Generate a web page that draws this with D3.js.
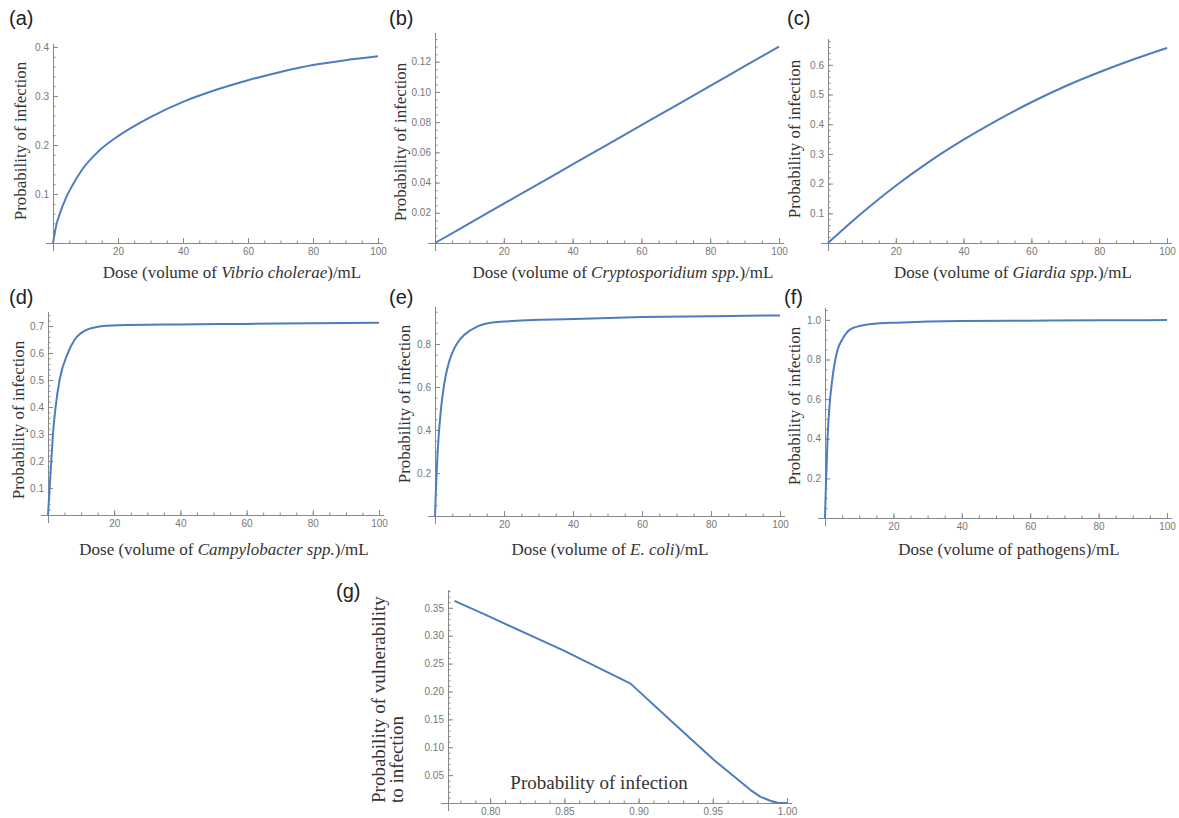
<!DOCTYPE html>
<html lang="en">
<head>
  <meta charset="UTF-8">
  <title>Dose-response curves</title>
  <style>
    body { margin: 0; background: #fff; }
    .tick text { font-family: "Liberation Sans", Arial, sans-serif; font-size: 10px; fill: #777; }
    .tick line { stroke: #888; }
    .axis-title { font-family: "Liberation Serif", "DejaVu Serif", serif; font-size: 17px; fill: #333; }
    .panel-label { font-family: "Liberation Sans", Arial, sans-serif; font-size: 20px; fill: #222; }
  </style>
</head>
<body>
  <svg width="1179" height="818"></svg>
  <script src="https://d3js.org/d3.v7.min.js"></script>
  <script>
// Values
const doseA = [0, 1, 2, 4, 6, 9, 14, 20, 30, 40, 50, 60, 70, 80, 90, 100];
const probA = [0, 0.036, 0.058, 0.092, 0.118, 0.15, 0.187, 0.218, 0.257, 0.288, 0.312, 0.332, 0.349, 0.363, 0.373, 0.381];

const doseB = [0, 10, 20, 30, 40, 50, 60, 70, 80, 90, 100];
const probB = [0, 0.013, 0.026, 0.039, 0.052, 0.065, 0.078, 0.091, 0.104, 0.117, 0.130];

const doseC = [0, 10, 20, 30, 40, 50, 60, 70, 80, 90, 100];
const probC = [0, 0.101, 0.193, 0.275, 0.348, 0.414, 0.474, 0.528, 0.575, 0.618, 0.657];

const doseD = [0, 0.5, 1, 1.5, 2.3, 3.5, 6, 8.1, 11.5, 15.5, 21, 40, 60, 80, 100];
const probD = [0, 0.1, 0.2, 0.3, 0.4, 0.5, 0.6, 0.65, 0.685, 0.698, 0.703, 0.706, 0.708, 0.710, 0.712];

const doseE = [0, 0.3, 0.8, 1.7, 2.7, 4.1, 5.6, 7.5, 10.4, 14.3, 20.7, 40, 60, 80, 100];
const probE = [0, 0.136, 0.307, 0.493, 0.617, 0.718, 0.78, 0.826, 0.865, 0.893, 0.905, 0.916, 0.925, 0.929, 0.933];

const doseF = [0, 0.3, 0.8, 1.2, 2.2, 3.6, 5.1, 7.5, 10.4, 15.3, 20.9, 40, 60, 80, 100];
const probF = [0, 0.188, 0.424, 0.541, 0.709, 0.844, 0.903, 0.953, 0.97, 0.982, 0.986, 0.994, 0.996, 0.998, 0.999];

const infG = [0.776, 0.80, 0.85, 0.8946, 0.924, 0.951, 0.9757, 0.9822, 0.9892, 0.9937, 1.0];
const vulnG = [0.3624, 0.3337, 0.2727, 0.2141, 0.142, 0.0766, 0.0227, 0.011, 0.0036, 0.0005, 0];

const lineColor = "#4f7cc0";
const svg = d3.select("svg");

const panels = [
  { tag: "(a)", tagX: 9, tagY: 25, xs: doseA, ys: probA,
    xDom: [0, 100], xRange: [53, 378], yDom: [0, 0.406], yRange: [243, 44],
    xMajor: 20, xMinor: 5, yMajor: 0.1, yMinor: 0.02, xFmt: "d", yFmt: ".1f",
    xTitle: ["Dose (volume of ", "Vibrio cholerae", ")/mL"], xtX: 232, xtY: 278,
    yTitle: ["Probability of infection"], ytX: 26, ytY: 141 },
  { tag: "(b)", tagX: 389, tagY: 25, xs: doseB, ys: probB,
    xDom: [0, 100], xRange: [435, 779], yDom: [0, 0.139], yRange: [243, 33],
    xMajor: 20, xMinor: 5, yMajor: 0.02, yMinor: 0.005, xFmt: "d", yFmt: ".2f",
    xTitle: ["Dose (volume of ", "Cryptosporidium spp.", ")/mL"], xtX: 623, xtY: 278,
    yTitle: ["Probability of infection"], ytX: 406, ytY: 142 },
  { tag: "(c)", tagX: 787, tagY: 25, xs: doseC, ys: probC,
    xDom: [0, 100], xRange: [828, 1167], yDom: [0, 0.687], yRange: [243, 39],
    xMajor: 20, xMinor: 5, yMajor: 0.1, yMinor: 0.02, xFmt: "d", yFmt: ".1f",
    xTitle: ["Dose (volume of ", "Giardia spp.", ")/mL"], xtX: 1013, xtY: 278,
    yTitle: ["Probability of infection"], ytX: 800, ytY: 139 },
  { tag: "(d)", tagX: 9, tagY: 304, xs: doseD, ys: probD,
    xDom: [0, 100], xRange: [48, 379], yDom: [0, 0.752], yRange: [515, 312],
    xMajor: 20, xMinor: 5, yMajor: 0.1, yMinor: 0.02, xFmt: "d", yFmt: ".1f",
    xTitle: ["Dose (volume of ", "Campylobacter spp.", ")/mL"], xtX: 224, xtY: 555,
    yTitle: ["Probability of infection"], ytX: 24, ytY: 420 },
  { tag: "(e)", tagX: 389, tagY: 304, xs: doseE, ys: probE,
    xDom: [0, 100], xRange: [435, 780], yDom: [0, 0.972], yRange: [516, 307],
    xMajor: 20, xMinor: 5, yMajor: 0.2, yMinor: 0.05, xFmt: "d", yFmt: ".1f",
    xTitle: ["Dose (volume of ", "E. coli", ")/mL"], xtX: 610, xtY: 555,
    yTitle: ["Probability of infection"], ytX: 410, ytY: 404 },
  { tag: "(f)", tagX: 784, tagY: 304, xs: doseF, ys: probF,
    xDom: [0, 100], xRange: [825, 1167], yDom: [0, 1.06], yRange: [518, 308],
    xMajor: 20, xMinor: 5, yMajor: 0.2, yMinor: 0.05, xFmt: "d", yFmt: ".1f",
    xTitle: ["Dose (volume of pathogens)/mL"], xtX: 1009, xtY: 555,
    yTitle: ["Probability of infection"], ytX: 800, ytY: 406 },
  { tag: "(g)", tagX: 336, tagY: 598, xs: infG, ys: vulnG, linear: true, titleSize: 19,
    xDom: [0.7716, 1.0], xRange: [448, 787], yDom: [0, 0.382], yRange: [803, 590],
    xMajor: 0.05, xMinor: 0.01, yMajor: 0.05, yMinor: 0.01, xFmt: ".2f", yFmt: ".2f",
    xTitle: ["Probability of infection"], xtX: 599, xtY: 789,
    yTitle: ["Probability of vulnerability", "to infection"], ytX: 385, ytY: 803, yAnchor: "start" }
];

function stepTicks(dom, step, skipZero) {
  const start = Math.ceil(dom[0] / step - 1e-6) * step;
  return d3.range(start, dom[1] + step * 1e-3, step)
    .map(v => +v.toFixed(4))
    .filter(v => !(skipZero && v === 0));
}

panels.forEach(p => {
  const x = d3.scaleLinear().domain(p.xDom).range(p.xRange);
  const y = d3.scaleLinear().domain(p.yDom).range(p.yRange);
  const g = svg.append("g");
  const y0 = p.yRange[0], x0 = p.xRange[0];
  const fs = p.titleSize || 17;

  // axis lines, crossing a little past the origin
  g.append("line").attr("x1", x0 - 7).attr("x2", p.xRange[1] + 5)
    .attr("y1", y0 + 0.5).attr("y2", y0 + 0.5).attr("stroke", "#888");
  g.append("line").attr("x1", x0 + 0.5).attr("x2", x0 + 0.5)
    .attr("y1", y0 + 8).attr("y2", p.yRange[1]).attr("stroke", "#888");

  // minor ticks
  g.append("g").attr("transform", `translate(0,${y0})`)
    .call(d3.axisBottom(x).tickValues(stepTicks(p.xDom, p.xMinor, true)).tickSize(-2.5).tickFormat(""))
    .call(a => a.select(".domain").remove());
  g.append("g").attr("transform", `translate(${x0},0)`)
    .call(d3.axisLeft(y).tickValues(stepTicks(p.yDom, p.yMinor, true)).tickSize(-2.5).tickFormat(""))
    .call(a => a.select(".domain").remove());

  // major ticks with labels
  g.append("g").attr("transform", `translate(0,${y0})`)
    .call(d3.axisBottom(x).tickValues(stepTicks(p.xDom, p.xMajor, true)).tickSize(-5).tickPadding(5)
      .tickFormat(d3.format(p.xFmt)))
    .call(a => a.select(".domain").remove());
  g.append("g").attr("transform", `translate(${x0},0)`)
    .call(d3.axisLeft(y).tickValues(stepTicks(p.yDom, p.yMajor, true)).tickSize(-5).tickPadding(4)
      .tickFormat(d3.format(p.yFmt)))
    .call(a => a.select(".domain").remove());

  // curve
  const pts = p.xs.map((v, i) => [v, p.ys[i]]);
  g.append("path").datum(pts)
    .attr("fill", "none").attr("stroke", lineColor).attr("stroke-width", 2)
    .attr("stroke-linejoin", "round")
    .attr("d", d3.line().x(d => x(d[0])).y(d => y(d[1]))
      .curve(p.linear ? d3.curveLinear : d3.curveMonotoneX));

  // x title (italic middle part where present)
  const xt = g.append("text").attr("class", "axis-title").style("font-size", fs + "px")
    .attr("x", p.xtX).attr("y", p.xtY).attr("text-anchor", "middle");
  p.xTitle.forEach((s, i) => xt.append("tspan").text(s).style("font-style", i === 1 ? "italic" : "normal"));

  // y title, rotated
  p.yTitle.forEach((s, i) => {
    g.append("text").attr("class", "axis-title").style("font-size", fs + "px")
      .attr("transform", `translate(${p.ytX + i * 18},${p.ytY}) rotate(-90)`)
      .attr("text-anchor", p.yAnchor || "middle")
      .text(s);
  });

  g.append("text").attr("class", "panel-label")
    .attr("x", p.tagX).attr("y", p.tagY).text(p.tag);
});
  </script>
</body>
</html>
